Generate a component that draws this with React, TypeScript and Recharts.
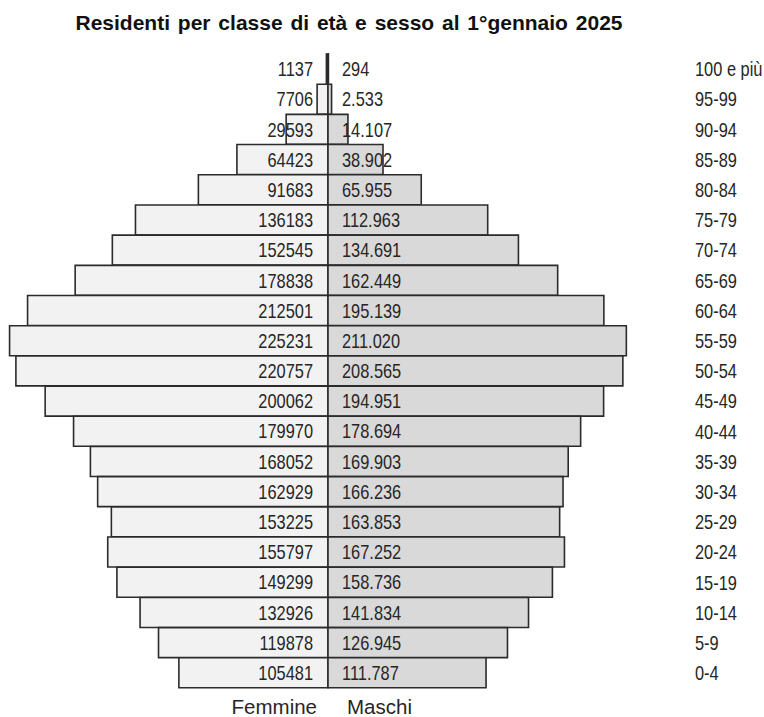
import React from 'react';
import { BarChart, Bar, XAxis, YAxis, LabelList } from 'recharts';

const ages = ['100 e più', '95-99', '90-94', '85-89', '80-84', '75-79', '70-74', '65-69', '60-64', '55-59', '50-54', '45-49', '40-44', '35-39', '30-34', '25-29', '20-24', '15-19', '10-14', '5-9', '0-4'];
const femmine = [1137, 7706, 29593, 64423, 91683, 136183, 152545, 178838, 212501, 225231, 220757, 200062, 179970, 168052, 162929, 153225, 155797, 149299, 132926, 119878, 105481];
const maschi = [294, 2533, 14107, 38902, 65955, 112963, 134691, 162449, 195139, 211020, 208565, 194951, 178694, 169903, 166236, 163853, 167252, 158736, 141834, 126945, 111787];

const data = ages.map((age, i) => ({ age, femmine: -femmine[i], maschi: maschi[i] }));

const font = '"Liberation Sans", Arial, sans-serif';
const textColor = '#262626';

// Arial Narrow look: regular sans squeezed horizontally
const NarrowText = ({ x, y, anchor, children }: any) => (
  <text
    transform={`translate(${x},${y}) scale(0.82,1)`}
    dy="0.36em"
    textAnchor={anchor}
    fontSize={20}
    fontFamily={font}
    fill={textColor}
  >
    {children}
  </text>
);

const FemaleLabel = (props: any) => {
  const { x, y, width, height, value } = props;
  const edge = Math.max(x, x + width);
  return <NarrowText x={edge - 15} y={y + height / 2} anchor="end">{String(Math.abs(value))}</NarrowText>;
};

const MaleLabel = (props: any) => {
  const { x, y, width, height, value } = props;
  const edge = Math.min(x, x + width);
  return <NarrowText x={edge + 14} y={y + height / 2} anchor="start">{Number(value).toLocaleString('it-IT')}</NarrowText>;
};

const AgeTick = (props: any) => {
  const { x, y, payload } = props;
  return <NarrowText x={x - 1} y={y} anchor="start">{payload.value}</NarrowText>;
};

export default function App() {
  return (
    <div style={{ position: 'absolute', left: 0, top: 0, width: 764, height: 717, background: '#fff', overflow: 'hidden' }}>
      <div style={{ position: 'absolute', left: 0, top: 12, width: 698, textAlign: 'center', fontFamily: font, fontWeight: 'bold', fontSize: 21, lineHeight: 1, color: '#111', wordSpacing: 2 }}>
        Residenti per classe di età e sesso al 1°gennaio 2025
      </div>
      <BarChart
        width={764}
        height={717}
        data={data}
        layout="vertical"
        stackOffset="sign"
        barCategoryGap={0}
        margin={{ top: 54, right: 0, bottom: 29, left: 0 }}
      >
        <XAxis type="number" domain={[-232000, 232000]} hide />
        <YAxis
          type="category"
          dataKey="age"
          orientation="right"
          width={108}
          axisLine={false}
          tickLine={false}
          tickSize={0}
          tickMargin={40}
          tick={<AgeTick />}
          interval={0}
        />
        <Bar dataKey="femmine" stackId="a" fill="#f2f2f2" stroke="#2b2b2b" strokeWidth={1.6} isAnimationActive={false}>
          <LabelList dataKey="femmine" content={<FemaleLabel />} />
        </Bar>
        <Bar dataKey="maschi" stackId="a" fill="#d9d9d9" stroke="#2b2b2b" strokeWidth={1.6} isAnimationActive={false}>
          <LabelList dataKey="maschi" content={<MaleLabel />} />
        </Bar>
      </BarChart>
      <div style={{ position: 'absolute', right: 764 - 317, top: 697, fontFamily: font, fontSize: 20.5, lineHeight: 1, color: textColor }}>Femmine</div>
      <div style={{ position: 'absolute', left: 347, top: 697, fontFamily: font, fontSize: 20.5, lineHeight: 1, color: textColor }}>Maschi</div>
    </div>
  );
}
